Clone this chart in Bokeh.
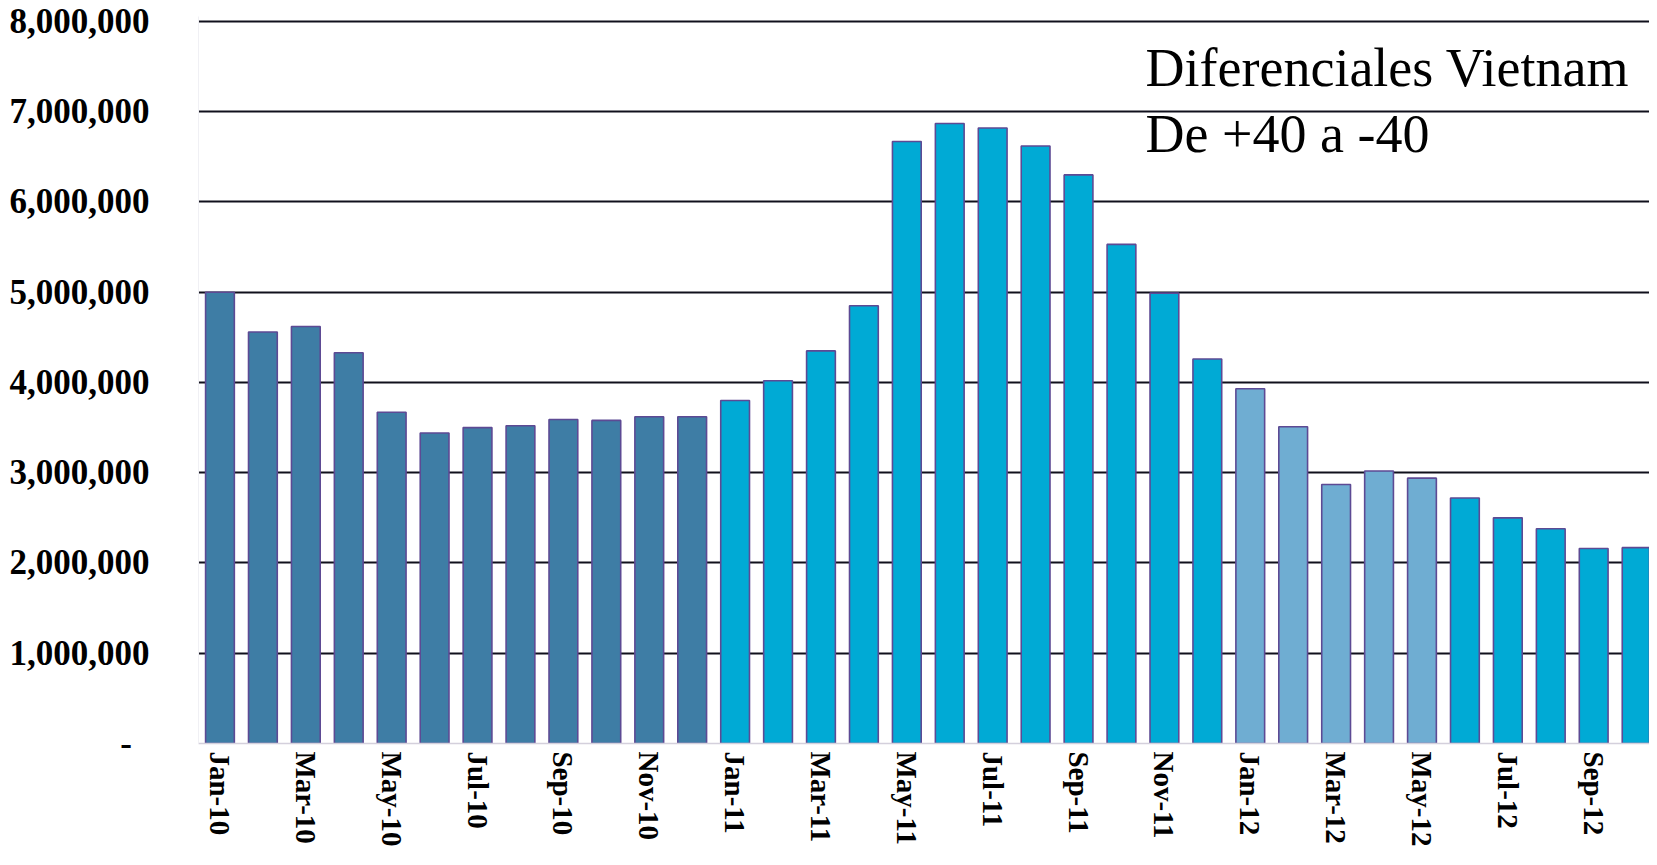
import math
from bokeh.plotting import figure
from bokeh.models import ColumnDataSource, FixedTicker, Range1d, NumeralTickFormatter, Label
from bokeh.embed import file_html
from bokeh.resources import INLINE

months = ["Jan-10", "Feb-10", "Mar-10", "Apr-10", "May-10", "Jun-10", "Jul-10", "Aug-10",
          "Sep-10", "Oct-10", "Nov-10", "Dec-10",
          "Jan-11", "Feb-11", "Mar-11", "Apr-11", "May-11", "Jun-11", "Jul-11", "Aug-11",
          "Sep-11", "Oct-11", "Nov-11", "Dec-11",
          "Jan-12", "Feb-12", "Mar-12", "Apr-12", "May-12", "Jun-12", "Jul-12", "Aug-12",
          "Sep-12", "Oct-12"]

values = [5000000, 4560000, 4620000, 4330000, 3670000, 3440000, 3500000, 3520000,
          3590000, 3580000, 3620000, 3620000,
          3800000, 4020000, 4350000, 4850000, 6670000, 6870000, 6820000, 6620000,
          6300000, 5530000, 4990000, 4260000,
          3930000, 3510000, 2870000, 3020000, 2940000, 2720000, 2500000, 2380000,
          2160000, 2170000]

# colour group of each bar, as drawn in the original
groups = ["a"] * 12 + ["b"] * 12 + ["c"] * 5 + ["b"] * 5
palette = {"a": "#3E7DA5", "b": "#00AAD5", "c": "#6FADD2"}

y_ticks = [0, 1000000, 2000000, 3000000, 4000000, 5000000, 6000000, 7000000, 8000000]

title_lines = ["Diferenciales Vietnam", "De +40 a -40"]

idx = list(range(len(months)))
source = ColumnDataSource(dict(x=idx, top=values, month=months,
                               color=[palette[g] for g in groups]))

p = figure(width=1649, height=849, output_backend="svg", toolbar_location=None,
           x_range=Range1d(-0.5, 33.3), y_range=Range1d(0, 8055000),
           min_border_left=198, min_border_right=0, min_border_top=16)

p.vbar(x="x", top="top", width=0.67, source=source, fill_color="color",
       line_color="#5D4A94", line_width=1.6)

# axes
p.xaxis.ticker = FixedTicker(ticks=idx[::2])
p.xaxis.major_label_overrides = {i: months[i] for i in idx[::2]}
p.xaxis.major_label_orientation = -math.pi / 2
p.xaxis.major_label_text_font = "Liberation Serif"
p.xaxis.major_label_text_font_style = "bold"
p.xaxis.major_label_text_font_size = "29px"
p.xaxis.major_label_text_color = "#000000"
p.xaxis.major_label_standoff = 2
p.xaxis.major_tick_line_color = None
p.xaxis.minor_tick_line_color = None
p.xaxis.axis_line_color = "#d4d0dc"
p.xaxis.axis_line_width = 1.5

p.yaxis.ticker = FixedTicker(ticks=y_ticks)
p.yaxis.formatter = NumeralTickFormatter(format="0,0")
p.yaxis.major_label_overrides = {0: "-\u00a0\u00a0"}
p.yaxis.major_label_text_font = "Liberation Serif"
p.yaxis.major_label_text_font_style = "bold"
p.yaxis.major_label_text_font_size = "35px"
p.yaxis.major_label_text_color = "#000000"
p.yaxis.major_label_standoff = 43
p.yaxis.major_tick_line_color = None
p.yaxis.minor_tick_line_color = None
p.yaxis.axis_line_color = "#f0f0f4"

p.xgrid.grid_line_color = None
p.ygrid.ticker = FixedTicker(ticks=y_ticks[1:])
p.ygrid.grid_line_color = "#10101c"
p.ygrid.grid_line_width = 2

p.outline_line_color = None
p.background_fill_color = "white"
p.border_fill_color = "white"

p.add_layout(Label(x=21.56, y=7479000, text=title_lines[0], text_font="Liberation Serif",
                   text_font_size="54px", text_color="#000000", text_baseline="alphabetic"))
p.add_layout(Label(x=21.56, y=6748000, text=title_lines[1], text_font="Liberation Serif",
                   text_font_size="54px", text_color="#000000", text_baseline="alphabetic"))

open("out.html", "w").write(file_html(p, INLINE))
